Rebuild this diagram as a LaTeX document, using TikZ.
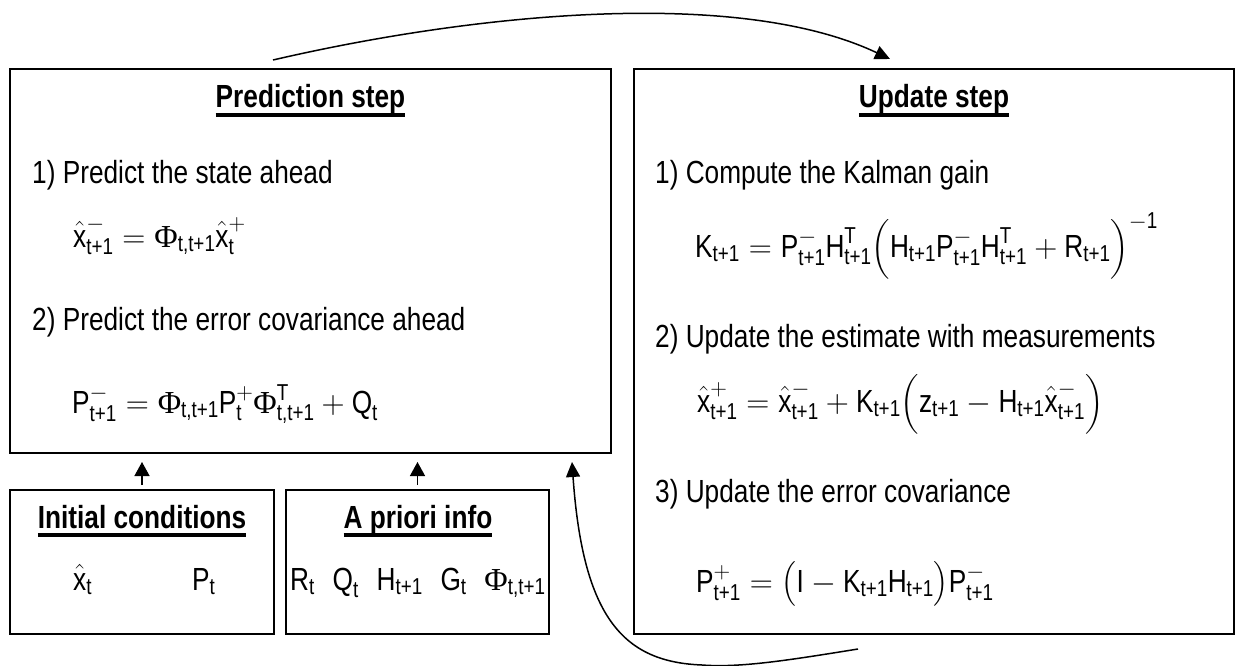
\RequirePackage{fix-cm}
\documentclass[tikz,border=0pt]{standalone}
\usepackage{amsmath}
\usepackage{fontspec}
\setmainfont{Liberation Sans}[FakeStretch=0.82]
\newfontfamily\phifont{Liberation Serif}
\usetikzlibrary{arrows.meta}
\DeclareMathSizes{32}{32}{23}{17}
\newcommand\fsz{\fontsize{32}{38}\selectfont}
\newcommand\tx[1]{\text{#1}}
\newcommand\Ph{\text{\phifont Φ}}
\newcommand\ulin[1]{\setbox0\hbox{#1}\rlap{\rule[-0.27em]{\wd0}{0.1em}}\box0}
\begin{document}
\begin{tikzpicture}[x=1pt,y=-1pt,
  box/.style={draw, line width=1.6pt, rectangle, inner sep=0pt, outer sep=0pt, anchor=north west},
  txt/.style={inner sep=0pt, anchor=base west, font=\fsz},
  ttl/.style={inner sep=0pt, anchor=base, font=\fsz\bfseries},
  arr/.style={-{Triangle[length=14pt,width=15pt]}, line width=1.4pt},
  curvearr/.style={-{Triangle[length=15pt,width=14pt]}, line width=1.5pt}]
\useasboundingbox (0,0) rectangle (1237,666);
% boxes
\node[box, minimum width=601pt, minimum height=384pt] (pred) at (10,69) {};
\node[box, minimum width=600pt, minimum height=565pt] (upd) at (634,69) {};
\node[box, minimum width=264pt, minimum height=144pt] (init) at (10,490) {};
\node[box, minimum width=263pt, minimum height=144pt] (apri) at (286,490) {};
% prediction step
\node[ttl] (ptitle) at (310.5,108) {\ulin{Prediction step}};
\node[txt] (pl1) at (32,183) {1) Predict the state ahead};
\node[txt] (pf1) at (73,247) {$\hat{\tx{x}}^{-}_{\tx{t+1}} = \Ph_{\tx{t,t+1}}\hat{\tx{x}}^{+}_{\tx{t}}$};
\node[txt] (pl2) at (32,330) {2) Predict the error covariance ahead};
\node[txt] (pf2) at (72,413) {$\tx{P}^{-}_{\tx{t+1}} = \Ph_{\tx{t,t+1}}\tx{P}^{+}_{\tx{t}}\Ph^{\tx{T}}_{\tx{t,t+1}} + \tx{Q}_{\tx{t}}$};
% update step
\node[ttl] (utitle) at (934,108) {\ulin{Update step}};
\node[txt] (ul1) at (655,183) {1) Compute the Kalman gain};
\node[txt] (uf1) at (695,257) {$\tx{K}_{\tx{t+1}} = \tx{P}^{-}_{\tx{t+1}}\tx{H}^{\tx{T}}_{\tx{t+1}}\Bigl(\tx{H}_{\tx{t+1}}\tx{P}^{-}_{\tx{t+1}}\tx{H}^{\tx{T}}_{\tx{t+1}} + \tx{R}_{\tx{t+1}}\Bigr)^{-\tx{1}}$};
\node[txt] (ul2) at (655,347) {2) Update the estimate with measurements};
\node[txt] (uf2) at (697,412) {$\hat{\tx{x}}^{+}_{\tx{t+1}} = \hat{\tx{x}}^{-}_{\tx{t+1}} + \tx{K}_{\tx{t+1}}\Bigl(\tx{z}_{\tx{t+1}} - \tx{H}_{\tx{t+1}}\hat{\tx{x}}^{-}_{\tx{t+1}}\Bigr)$};
\node[txt] (ul3) at (655,502) {3) Update the error covariance};
\node[txt] (uf3) at (696,592) {$\tx{P}^{+}_{\tx{t+1}} = \bigl(\tx{I} - \tx{K}_{\tx{t+1}}\tx{H}_{\tx{t+1}}\bigr)\tx{P}^{-}_{\tx{t+1}}$};
% initial conditions
\node[ttl] (ititle) at (142,528) {\ulin{Initial conditions}};
\node[txt] (ix) at (73,590) {$\hat{\tx{x}}_{\tx{t}}$};
\node[txt] (ip) at (192,590) {$\tx{P}_{\tx{t}}$};
% a priori info
\node[ttl] (atitle) at (418,528) {\ulin{A priori info}};
\node[txt] (av) at (290,590) {$\tx{R}_{\tx{t}}\;\;\tx{Q}_{\tx{t}}\;\;\tx{H}_{\tx{t+1}}\;\;\tx{G}_{\tx{t}}\;\;\Ph_{\tx{t,t+1}}$};
% short arrows
\coordinate (ia) at (init.north |- pred.south);
\coordinate (aa) at (apri.north |- pred.south);
\draw[arr] ([yshift=5pt]init.north) -- ([yshift=-9pt]ia);
\draw[arr] ([yshift=5pt]apri.north) -- ([yshift=-9pt]aa);
% curved arrows
\coordinate (ts) at (273,60);
\coordinate (te) at (890,59);
\draw[curvearr] (ts) .. controls (480,12) and (740,-12) .. (te);
\coordinate (bs) at (858,649);
\coordinate (bm) at (702,665);
\coordinate (be) at (572,462);
\draw[curvearr] (bs) .. controls (790,660) and (740,668) .. (bm)
  .. controls (625,662) and (583,620) .. (be);
\end{tikzpicture}
\end{document}
